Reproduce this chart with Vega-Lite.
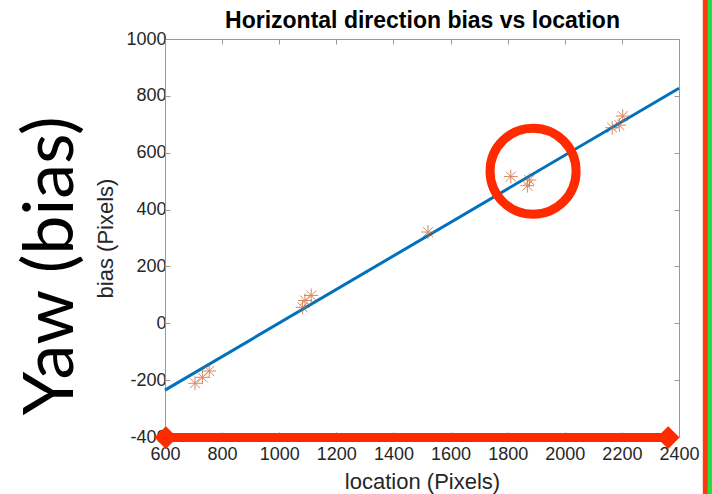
{
  "$schema": "https://vega.github.io/schema/vega-lite/v6.json",
  "autosize": "none",
  "width": 514,
  "height": 398,
  "padding": {"left": 165, "top": 39, "right": 33, "bottom": 57},
  "background": "white",
  "config": {
    "view": {"stroke": null},
    "axis": {"labelFont": "Liberation Sans", "labelFontSize": 18, "labelColor": "#262626", "titleFont": "Liberation Sans", "titleFontSize": 22, "titleFontWeight": "normal", "titleColor": "#262626", "domainColor": "#9a9a9a", "tickColor": "#9a9a9a", "domainWidth": 1, "tickWidth": 1, "tickSize": -5, "grid": false, "labelFlush": false, "labelOverlap": false, "labelBound": false, "labelExpr": "datum.value + ''"}
  },
  "datasets": {
    "pts": [
      {"loc": 705, "bias": -211},
      {"loc": 731, "bias": -190},
      {"loc": 755, "bias": -168},
      {"loc": 1082, "bias": 56},
      {"loc": 1090, "bias": 80},
      {"loc": 1112, "bias": 98},
      {"loc": 1521, "bias": 321},
      {"loc": 1811, "bias": 516},
      {"loc": 1869, "bias": 484},
      {"loc": 1876, "bias": 504},
      {"loc": 2166, "bias": 688},
      {"loc": 2191, "bias": 697},
      {"loc": 2203, "bias": 729}
    ],
    "fit": [
      {"loc": 600, "bias": -235},
      {"loc": 2400, "bias": 827}
    ]
  },
  "layer": [
    {
      "data": {"name": "fit"},
      "mark": {"type": "line", "color": "#0072BD", "strokeWidth": 3},
      "encoding": {
        "x": {"field": "loc", "type": "quantitative", "scale": {"domain": [600, 2400], "nice": false, "zero": false}, "axis": {"orient": "top", "labels": false, "title": "Horizontal direction bias vs location", "titleFontSize": 23, "titleFontWeight": "bold", "titleColor": "#000000", "titlePadding": 6, "values": [600, 800, 1000, 1200, 1400, 1600, 1800, 2000, 2200, 2400]}},
        "y": {"field": "bias", "type": "quantitative", "scale": {"domain": [-400, 1000], "nice": false, "zero": false}, "axis": {"orient": "right", "labels": false, "title": null, "values": [-400, -200, 0, 200, 400, 600, 800, 1000]}}
      }
    },
    {
      "data": {"name": "pts"},
      "mark": {"type": "point", "shape": "M-1,0L1,0M0,-1L0,1M-0.72,-0.72L0.72,0.72M-0.72,0.72L0.72,-0.72", "size": 190, "stroke": "#C8602E", "strokeWidth": 1, "opacity": 0.75, "filled": false},
      "encoding": {
        "x": {"field": "loc", "type": "quantitative", "axis": {"orient": "bottom", "title": "location (Pixels)", "values": [600, 800, 1000, 1200, 1400, 1600, 1800, 2000, 2200, 2400], "labelPadding": 13, "titlePadding": 8}},
        "y": {"field": "bias", "type": "quantitative", "axis": {"orient": "left", "title": "bias (Pixels)", "values": [-400, -200, 0, 200, 400, 600, 800, 1000], "labelPadding": 4, "titlePadding": 8}}
      }
    },
    {
      "data": {"values": [{"x": 1889, "y": 535}]},
      "mark": {"type": "point", "shape": "circle", "size": 7400, "stroke": "#FF2A00", "strokeWidth": 9, "filled": false, "opacity": 1},
      "encoding": {"x": {"field": "x", "type": "quantitative", "axis": null}, "y": {"field": "y", "type": "quantitative", "axis": null}}
    },
    {
      "data": {"values": [{"x": 600, "x2": 2365, "y": -402}]},
      "mark": {"type": "rule", "color": "#FF2A00", "strokeWidth": 9},
      "encoding": {"x": {"field": "x", "type": "quantitative", "axis": null}, "x2": {"field": "x2"}, "y": {"field": "y", "type": "quantitative", "axis": null}}
    },
    {
      "data": {"values": [{"x": 603, "y": -402}, {"x": 2362, "y": -402}]},
      "mark": {"type": "point", "shape": "diamond", "size": 520, "fill": "#FF2A00", "filled": true, "opacity": 1},
      "encoding": {"x": {"field": "x", "type": "quantitative", "axis": null}, "y": {"field": "y", "type": "quantitative", "axis": null}}
    },
    {
      "data": {"values": [{"x": 2493, "y": 1300, "y2": -700, "c": "red"}, {"x": 2510, "y": 1300, "y2": -700, "c": "green"}]},
      "mark": {"type": "rule", "strokeWidth": 5.5},
      "encoding": {
        "x": {"field": "x", "type": "quantitative", "axis": null},
        "y": {"field": "y", "type": "quantitative", "axis": null},
        "y2": {"field": "y2"},
        "color": {"field": "c", "type": "nominal", "scale": {"domain": ["red", "green"], "range": ["#FF3A10", "#1FE03C"]}, "legend": null}
      }
    },
    {
      "data": {"values": [{"x": 278, "y": 202, "t": "Yaw (bias)"}]},
      "mark": {"type": "text", "angle": 270, "align": "center", "baseline": "alphabetic", "font": "Lato", "fontSize": 70, "color": "#000000"},
      "encoding": {"x": {"field": "x", "type": "quantitative", "axis": null}, "y": {"field": "y", "type": "quantitative", "axis": null}, "text": {"field": "t"}}
    }
  ],
  "resolve": {"axis": {"x": "independent", "y": "independent"}}
}
